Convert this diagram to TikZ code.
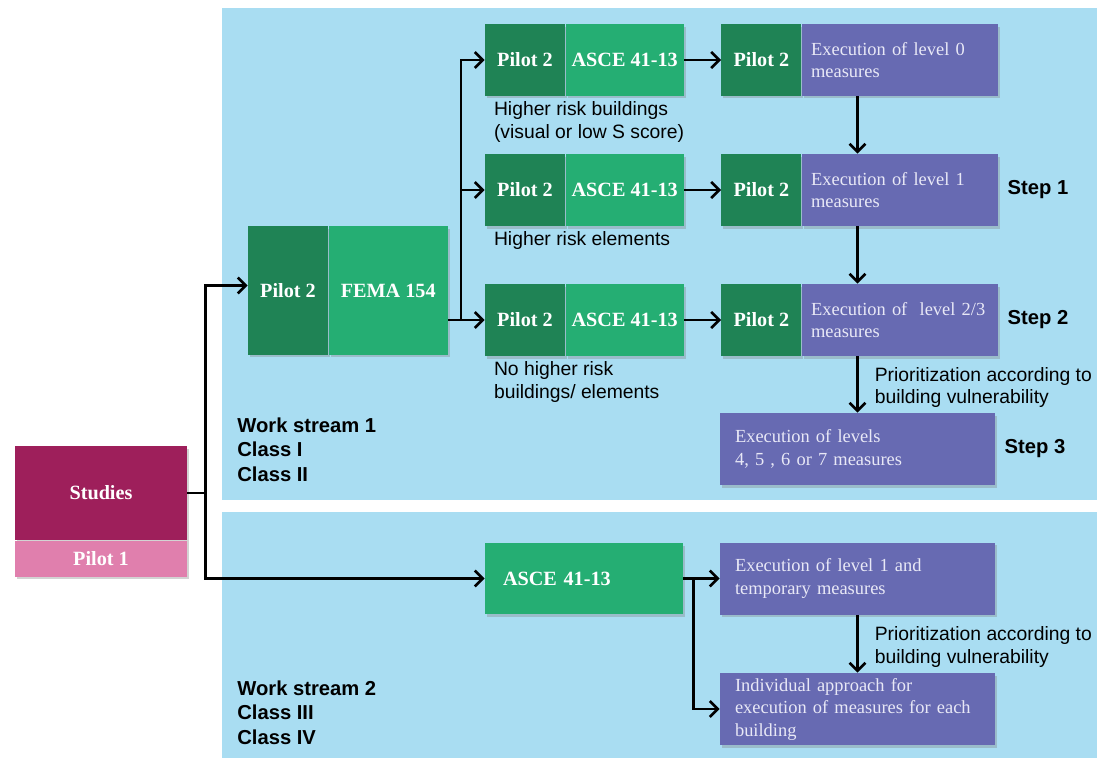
\documentclass[tikz,border=0pt]{standalone}
\usepackage{fontspec}
\setmainfont{Liberation Serif}
\setsansfont{Liberation Sans}
\usetikzlibrary{positioning,shadows,arrows.meta}

\definecolor{panelblue}{HTML}{A9DDF2}
\definecolor{dkgreen}{HTML}{1F8355}
\definecolor{ltgreen}{HTML}{25AE73}
\definecolor{execpurple}{HTML}{676AB2}
\definecolor{studmagenta}{HTML}{9E1F5B}
\definecolor{studpink}{HTML}{E07FAD}
\definecolor{paletext}{HTML}{E8E8F6}

\begin{document}
\begin{tikzpicture}[x=0.02cm,y=-0.02cm]

\tikzset{
    box/.style={inner sep=0, minimum height=1.44cm, drop shadow={shadow xshift=0.04cm, shadow yshift=-0.05cm, opacity=0.35}},
    pilot/.style={box, fill=dkgreen, text=white, minimum width=1.6cm, font=\fontsize{11.5}{13}\selectfont\bfseries},
    asce/.style={box, fill=ltgreen, text=white, minimum width=2.36cm, font=\fontsize{11.5}{13}\selectfont\bfseries},
    exec/.style={box, fill=execpurple, text=paletext, inner xsep=0.18cm, text width=3.56cm, align=left, font=\fontsize{10.5}{12.8}\selectfont},
    wide/.style={box, fill=execpurple, text=paletext, inner xsep=0.3cm, text width=4.9cm, align=left, font=\fontsize{10.5}{12.8}\selectfont},
    note/.style={inner sep=0, align=left, font=\sffamily\fontsize{11}{12.8}\selectfont},
    steplbl/.style={inner sep=0, font=\sffamily\bfseries\fontsize{11.5}{14}\selectfont},
    arr/.style={-{Straight Barb[length=1.6mm,width=3.2mm]}, line width=1.5pt},
    line/.style={line width=1.5pt}
}

\useasboundingbox (0,0) rectangle (1097,758);
\fill[panelblue] (222,8) rectangle (1097,500);
\fill[panelblue] (222,512) rectangle (1097,758);

% studies
\node[box, fill=studmagenta, text=white, minimum width=3.44cm, minimum height=1.88cm, font=\fontsize{11.5}{13}\selectfont\bfseries] (stud) at (101,493) {Studies};
\node[box, fill=studpink, text=white, minimum width=3.44cm, minimum height=0.72cm, font=\fontsize{11.5}{13}\selectfont\bfseries, below=0pt of stud] (studpilot) {Pilot 1};

% work stream 1
\node[pilot, minimum height=2.58cm] (fp) at (288,290.5) {Pilot 2};
\node[asce, minimum width=2.38cm, minimum height=2.58cm, right=0pt of fp] (fe) {FEMA 154};

\node[pilot] (p1) at (525,60) {Pilot 2};
\node[asce, right=0pt of p1] (a1) {ASCE 41-13};
\node[pilot, right=0.74cm of a1] (q1) {Pilot 2};
\node[exec, right=0pt of q1] (e1) {Execution of level 0\\measures};

\node[pilot] (p2) at (525,190) {Pilot 2};
\node[asce, right=0pt of p2] (a2) {ASCE 41-13};
\node[pilot, right=0.74cm of a2] (q2) {Pilot 2};
\node[exec, right=0pt of q2] (e2) {Execution of level 1\\measures};

\node[pilot] (p3) at (525,320) {Pilot 2};
\node[asce, right=0pt of p3] (a3) {ASCE 41-13};
\node[pilot, right=0.74cm of a3] (q3) {Pilot 2};
\node[exec, right=0pt of q3] (e3) {Execution of~ level 2/3\\measures};

\node[wide] (s3) at (857.5,449) {Execution of levels\\4, 5 , 6 or 7 measures};

\node[note, anchor=north west] (n1) at ([xshift=0.18cm,yshift=-0.1cm]p1.south west) {Higher risk buildings\\(visual or low S score)};
\node[note, anchor=north west] (n2) at ([xshift=0.18cm,yshift=-0.1cm]p2.south west) {Higher risk elements};
\node[note, anchor=north west] (n3) at ([xshift=0.18cm,yshift=-0.1cm]p3.south west) {No higher risk\\buildings/ elements};

\node[steplbl, right=0.18cm of e2] (step1) {Step 1};
\node[steplbl, right=0.18cm of e3] (step2) {Step 2};
\node[steplbl, right=0.18cm of s3] (step3) {Step 3};

\node[steplbl, align=left, anchor=north west] (ws1) at (237,417) {Work stream 1\\Class I\\Class II};

% work stream 2
\node[box, fill=ltgreen, text=white, minimum width=3.96cm, minimum height=1.42cm, inner xsep=0.36cm, text width=3.24cm, align=left, font=\fontsize{11.5}{13}\selectfont\bfseries] (b1) at (584,578.5) {ASCE 41-13};
\node[wide] (be1) at (857.5,578.5) {Execution of level 1 and\\temporary measures};
\node[wide] (be2) at (857.5,709) {Individual approach for\\execution of measures for each\\building};

\node[steplbl, align=left, anchor=north west] (ws2) at (237,680) {Work stream 2\\Class III\\Class IV};

% connectors
\path (stud.east) ++(0.36cm,0) coordinate (sfork);
\draw[line] (stud.east) -- (sfork);
\draw[arr] (sfork) |- ([yshift=0.1cm]fp.west);
\draw[arr] (sfork) |- (b1.west);

\path (fe.east |- p3.west) ++(0.26cm,0) coordinate (fork);
\draw[arr] (fe.east |- p3.west) -- (p3.west);
\draw[arr] (fork) |- (p1.west);
\draw[arr] (fork) |- (p2.west);

\foreach \i in {1,2,3}
    \draw[arr] (a\i) -- (q\i);

\draw[arr] (s3.north |- e1.south) -- (s3.north |- e2.north);
\draw[arr] (s3.north |- e2.south) -- (s3.north |- e3.north);
\draw[arr] (s3.north |- e3.south) -- node[note, right=0.32cm, yshift=-0.06cm] {Prioritization according to\\building vulnerability} (s3.north);

\path (b1.east) ++(0.2cm,0) coordinate (bfork);
\draw[arr] (b1.east) -- (be1.west);
\draw[arr] (bfork) |- (be2.west);
\draw[arr] (be1.south) -- node[note, right=0.32cm, yshift=-0.06cm] {Prioritization according to\\building vulnerability} (be2.north);

\end{tikzpicture}
\end{document}
